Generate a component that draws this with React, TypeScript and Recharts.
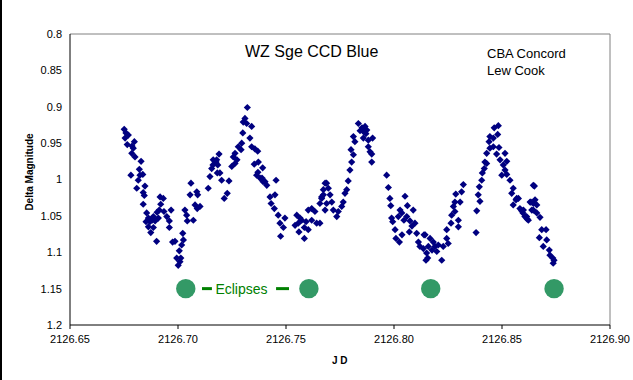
import React from 'react';
import { ScatterChart, Scatter, XAxis, YAxis, ReferenceLine, ReferenceDot } from 'recharts';

// JD, delta magnitude pairs, one array per orbital hump
const cycleOne: [number, number][] = [
  [2126.6751, 0.931], [2126.6759, 0.936], [2126.6755, 0.943], [2126.6765, 0.952], [2126.6770, 0.939],
  [2126.6798, 0.948], [2126.6793, 0.957], [2126.6786, 0.964], [2126.6787, 0.954], [2126.6801, 0.969],
  [2126.6829, 0.975], [2126.6821, 0.986], [2126.6782, 0.994], [2126.6824, 0.994], [2126.6837, 0.993],
  [2126.6816, 1.001], [2126.6847, 1.009], [2126.6809, 1.012], [2126.6839, 1.018], [2126.6844, 1.022],
  [2126.6839, 1.034], [2126.6855, 1.046], [2126.6863, 1.053], [2126.6886, 1.051], [2126.6870, 1.058],
  [2126.6894, 1.057], [2126.6909, 1.053], [2126.6880, 1.056], [2126.6852, 1.058], [2126.6903, 1.045],
  [2126.6917, 1.024], [2126.6932, 1.026], [2126.6920, 1.034], [2126.6913, 1.042], [2126.6935, 1.044],
  [2126.6968, 1.042], [2126.6948, 1.051], [2126.6960, 1.057], [2126.6863, 1.065], [2126.6886, 1.066],
  [2126.6874, 1.073], [2126.6960, 1.066], [2126.6901, 1.085], [2126.6975, 1.086], [2126.6986, 1.085],
  [2126.7022, 1.074], [2126.7025, 1.083], [2126.7017, 1.090], [2126.7006, 1.098], [2126.6994, 1.108],
  [2126.7013, 1.108], [2126.7001, 1.118], [2126.7009, 1.113], [2126.7032, 1.042], [2126.7040, 1.049],
  [2126.7043, 1.057], [2126.7071, 1.056], [2126.7056, 1.021], [2126.7060, 1.005], [2126.7087, 1.017],
  [2126.7091, 1.021], [2126.7079, 1.035], [2126.7089, 1.040], [2126.7102, 1.037], [2126.7140, 1.012],
  [2126.7148, 0.996], [2126.7156, 0.985], [2126.7163, 0.973], [2126.7176, 0.976], [2126.7182, 0.991],
  [2126.7162, 0.980],
];

const cycleTwo: [number, number][] = [
  [2126.7321, 0.901], [2126.7310, 0.916], [2126.7302, 0.921], [2126.7318, 0.923], [2126.7341, 0.927],
  [2126.7300, 0.936], [2126.7333, 0.943], [2126.7295, 0.950], [2126.7279, 0.955], [2126.7292, 0.959],
  [2126.7264, 0.964], [2126.7256, 0.969], [2126.7273, 0.973], [2126.7190, 0.965], [2126.7179, 0.973],
  [2126.7184, 0.980], [2126.7249, 0.982], [2126.7264, 0.978], [2126.7194, 0.991], [2126.7202, 1.001],
  [2126.7236, 1.002], [2126.7228, 1.019], [2126.7214, 1.026], [2126.7341, 0.955], [2126.7356, 0.958],
  [2126.7369, 0.961], [2126.7353, 0.979], [2126.7372, 0.976], [2126.7392, 0.984], [2126.7370, 0.990],
  [2126.7364, 0.994], [2126.7380, 0.998], [2126.7389, 0.998], [2126.7394, 1.003], [2126.7403, 1.003],
  [2126.7411, 1.008], [2126.7454, 1.001], [2126.7426, 1.024], [2126.7449, 1.021], [2126.7431, 1.033],
  [2126.7446, 1.040], [2126.7464, 1.049], [2126.7495, 1.053], [2126.7472, 1.060], [2126.7488, 1.066],
  [2126.7475, 1.078], [2126.7550, 1.049], [2126.7573, 1.056], [2126.7565, 1.053], [2126.7557, 1.060],
  [2126.7542, 1.063], [2126.7560, 1.072], [2126.7585, 1.066], [2126.7593, 1.058], [2126.7603, 1.069],
  [2126.7585, 1.081], [2126.7603, 1.042], [2126.7619, 1.040], [2126.7634, 1.044], [2126.7619, 1.056],
  [2126.7642, 1.060], [2126.7657, 1.033], [2126.7665, 1.024], [2126.7673, 1.014], [2126.7681, 1.005],
];

const cycleThree: [number, number][] = [
  [2126.7665, 1.026], [2126.7657, 1.060], [2126.7688, 1.005], [2126.7696, 1.012], [2126.7673, 1.021],
  [2126.7704, 1.021], [2126.7688, 1.033], [2126.7712, 1.031], [2126.7681, 1.042], [2126.7719, 1.042],
  [2126.7735, 1.051], [2126.7742, 1.044], [2126.7758, 1.037], [2126.7765, 1.031], [2126.7773, 1.019],
  [2126.7781, 1.014], [2126.7788, 1.002], [2126.7796, 0.987], [2126.7804, 0.976], [2126.7812, 0.966],
  [2126.7801, 0.959], [2126.7819, 0.948], [2126.7812, 0.941], [2126.7835, 0.923], [2126.7843, 0.933],
  [2126.7852, 0.929], [2126.7858, 0.934], [2126.7866, 0.927], [2126.7874, 0.932], [2126.7870, 0.937],
  [2126.7858, 0.943], [2126.7881, 0.946], [2126.7901, 0.943], [2126.7881, 0.955], [2126.7889, 0.962],
  [2126.7897, 0.965], [2126.7897, 0.976], [2126.7966, 0.994], [2126.7974, 1.011], [2126.7981, 1.026],
  [2126.7985, 1.036], [2126.8051, 1.023], [2126.8062, 1.036], [2126.8089, 1.042], [2126.8028, 1.042],
  [2126.8036, 1.046], [2126.8020, 1.051], [2126.7989, 1.053], [2126.7994, 1.058], [2126.8046, 1.056],
  [2126.8059, 1.051], [2126.8074, 1.057], [2126.8097, 1.060], [2126.8083, 1.064], [2126.8005, 1.069],
  [2126.8071, 1.072], [2126.8037, 1.076], [2126.8009, 1.081], [2126.8025, 1.086], [2126.8105, 1.074],
  [2126.8139, 1.076], [2126.8113, 1.086], [2126.8120, 1.092], [2126.8136, 1.095], [2126.8151, 1.101],
  [2126.8148, 1.111],
];

const cycleFour: [number, number][] = [
  [2126.8144, 1.076], [2126.8167, 1.081], [2126.8159, 1.092], [2126.8156, 1.108], [2126.8182, 1.086],
  [2126.8190, 1.092], [2126.8176, 1.097], [2126.8205, 1.090], [2126.8198, 1.099], [2126.8221, 1.111],
  [2126.8228, 1.092], [2126.8251, 1.088], [2126.8244, 1.081], [2126.8244, 1.069], [2126.8264, 1.060],
  [2126.8267, 1.049], [2126.8282, 1.044], [2126.8298, 1.056], [2126.8298, 1.065], [2126.8275, 1.037],
  [2126.8282, 1.031], [2126.8286, 1.020], [2126.8306, 1.031], [2126.8313, 1.017], [2126.8321, 1.007],
  [2126.8383, 1.043], [2126.8380, 1.073], [2126.8390, 1.021], [2126.8398, 1.030], [2126.8395, 1.010],
  [2126.8406, 1.001], [2126.8409, 0.991], [2126.8418, 0.985], [2126.8421, 0.976], [2126.8429, 0.978],
  [2126.8429, 0.964], [2126.8444, 0.957], [2126.8440, 0.948], [2126.8444, 0.941], [2126.8460, 0.943],
  [2126.8464, 0.929], [2126.8483, 0.926], [2126.8480, 0.938], [2126.8460, 0.955], [2126.8486, 0.956],
  [2126.8475, 0.965], [2126.8514, 0.964], [2126.8491, 0.973], [2126.8506, 0.980], [2126.8522, 0.975],
  [2126.8514, 0.987], [2126.8499, 0.994], [2126.8522, 0.993], [2126.8537, 1.001], [2126.8552, 1.012],
  [2126.8545, 1.019], [2126.8576, 1.026], [2126.8565, 1.028], [2126.8568, 1.026], [2126.8552, 1.035],
  [2126.8583, 1.040], [2126.8599, 1.042], [2126.8591, 1.043], [2126.8597, 1.046], [2126.8606, 1.051],
  [2126.8614, 1.051], [2126.8616, 1.054], [2126.8622, 1.056], [2126.8638, 1.042], [2126.8645, 1.033],
  [2126.8630, 1.031], [2126.8634, 1.031], [2126.8645, 1.008], [2126.8650, 1.009], [2126.8653, 1.028],
  [2126.8661, 1.035], [2126.8645, 1.042], [2126.8661, 1.046], [2126.8676, 1.052], [2126.8684, 1.069],
  [2126.8704, 1.069], [2126.8673, 1.080], [2126.8707, 1.083], [2126.8691, 1.092], [2126.8719, 1.097],
  [2126.8722, 1.104], [2126.8735, 1.108], [2126.8741, 1.111], [2126.8737, 1.115],
];

const eclipseTimes = [2126.7036, 2126.7606, 2126.8170, 2126.8741];
const eclipseLevel = 1.15;
const eclipseLabelJD = 2126.7294;
const leftDash: [number, number] = [2126.7111, 2126.7157];
const rightDash: [number, number] = [2126.7454, 2126.7514];

const xTicks = [2126.65, 2126.7, 2126.75, 2126.8, 2126.85, 2126.9];
const yTicks = [0.8, 0.85, 0.9, 0.95, 1, 1.05, 1.1, 1.15, 1.2];

const observations = [...cycleOne, ...cycleTwo, ...cycleThree, ...cycleFour].map(([jd, mag]) => ({ jd, mag }));
const eclipses = eclipseTimes.map(jd => ({ jd, mag: eclipseLevel }));

const Diamond = (props: any) => {
  const { cx, cy } = props;
  const h = 3.6;
  return (
    <polygon
      points={`${cx},${cy - h} ${cx + h},${cy} ${cx},${cy + h} ${cx - h},${cy}`}
      fill="#000080"
    />
  );
};

const EclipseDot = (props: any) => <circle cx={props.cx} cy={props.cy} r={9.7} fill="#339966" />;

const font = '"Liberation Sans", Arial, sans-serif';

export default function App() {
  return (
    <div style={{ position: 'absolute', left: 0, top: 0, width: 633, height: 380, fontFamily: font, background: '#fff' }}>
      <ScatterChart
        width={633}
        height={380}
        margin={{ top: 34, right: 23, left: 0, bottom: 0 }}
        style={{ overflow: 'visible' }}
      >
        <XAxis
          type="number"
          dataKey="jd"
          domain={[2126.65, 2126.9]}
          ticks={xTicks}
          tickFormatter={(v: number) => v.toFixed(2)}
          height={55}
          tickSize={4}
          tickMargin={6}
          stroke="#000"
          tick={{ fill: '#000', fontSize: 11 }}
          interval={0}
          allowDataOverflow
        />
        <YAxis
          type="number"
          dataKey="mag"
          domain={[0.8, 1.2]}
          ticks={yTicks}
          reversed
          width={70}
          tickLine={false}
          stroke="#000"
          tick={{ fill: '#000', fontSize: 11 }}
          interval={0}
          allowDataOverflow
        />
        <ReferenceLine y={0.8} stroke="#808080" />
        <ReferenceLine x={2126.9} stroke="#808080" />
        <ReferenceLine
          segment={[{ x: leftDash[0], y: eclipseLevel }, { x: leftDash[1], y: eclipseLevel }]}
          stroke="#008000"
          strokeWidth={3}
        />
        <ReferenceLine
          segment={[{ x: rightDash[0], y: eclipseLevel }, { x: rightDash[1], y: eclipseLevel }]}
          stroke="#008000"
          strokeWidth={3}
        />
        <ReferenceDot
          x={eclipseLabelJD}
          y={eclipseLevel}
          r={0}
          stroke="none"
          label={{ value: 'Eclipses', position: 'center', fill: '#008000', fontSize: 14 }}
        />
        <Scatter data={observations} shape={Diamond} isAnimationActive={false} />
        <Scatter data={eclipses} shape={EclipseDot} isAnimationActive={false} />
      </ScatterChart>

      <div style={{ position: 'absolute', left: 0, top: 0, width: 2, height: 380, background: '#000' }} />
      <div style={{ position: 'absolute', left: 245, top: 42, fontSize: 16, lineHeight: '20px', color: '#000', whiteSpace: 'nowrap' }}>
        WZ Sge CCD Blue
      </div>
      <div style={{ position: 'absolute', left: 487, top: 46, fontSize: 13, lineHeight: '16.7px', color: '#000', whiteSpace: 'nowrap' }}>
        CBA Concord<br />Lew Cook
      </div>
      <div
        style={{
          position: 'absolute',
          left: 28.5,
          top: 172,
          transform: 'translate(-50%, -50%) rotate(-90deg)',
          fontSize: 10,
          fontWeight: 'bold',
          whiteSpace: 'nowrap',
        }}
      >
        Delta Magnitude
      </div>
      <div style={{ position: 'absolute', left: 332, top: 355, fontSize: 10, fontWeight: 'bold', whiteSpace: 'nowrap' }}>
        J D
      </div>
    </div>
  );
}
